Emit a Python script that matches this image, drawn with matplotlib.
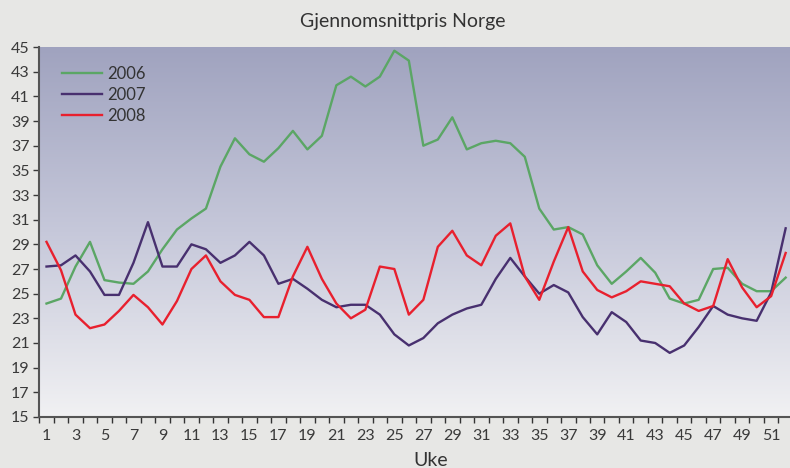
import numpy as np
import matplotlib
matplotlib.use('Agg')
import matplotlib.pyplot as plt
from matplotlib.colors import LinearSegmentedColormap

# Data
weeks = list(range(1, 53))

pris_2006 = [24.2, 24.6, 27.2, 29.2, 26.1, 25.9, 25.8, 26.8, 28.6, 30.2,
             31.1, 31.9, 35.3, 37.6, 36.3, 35.7, 36.8, 38.2, 36.7, 37.8,
             41.9, 42.6, 41.8, 42.6, 44.7, 43.9, 37.0, 37.5, 39.3, 36.7,
             37.2, 37.4, 37.2, 36.1, 31.9, 30.2, 30.4, 29.8, 27.3, 25.8,
             26.8, 27.9, 26.7, 24.6, 24.2, 24.5, 27.0, 27.1, 25.8, 25.2,
             25.2, 26.3]

pris_2007 = [27.2, 27.3, 28.1, 26.8, 24.9, 24.9, 27.5, 30.8, 27.2, 27.2,
             29.0, 28.6, 27.5, 28.1, 29.2, 28.1, 25.8, 26.2, 25.4, 24.5,
             23.9, 24.1, 24.1, 23.3, 21.7, 20.8, 21.4, 22.6, 23.3, 23.8,
             24.1, 26.2, 27.9, 26.4, 25.0, 25.7, 25.1, 23.1, 21.7, 23.5,
             22.7, 21.2, 21.0, 20.2, 20.8, 22.3, 24.0, 23.3, 23.0, 22.8,
             25.1, 30.3]

pris_2008 = [29.2, 26.9, 23.3, 22.2, 22.5, 23.6, 24.9, 23.9, 22.5, 24.4,
             27.0, 28.1, 26.0, 24.9, 24.5, 23.1, 23.1, 26.4, 28.8, 26.2,
             24.2, 23.0, 23.7, 27.2, 27.0, 23.3, 24.5, 28.8, 30.1, 28.1,
             27.3, 29.7, 30.7, 26.4, 24.5, 27.6, 30.4, 26.8, 25.3, 24.7,
             25.2, 26.0, 25.8, 25.6, 24.2, 23.6, 24.0, 27.8, 25.5, 23.9,
             24.8, 28.3]

series = [('2006', pris_2006, '#5ba665'),
          ('2007', pris_2007, '#48306f'),
          ('2008', pris_2008, '#e8202e')]

plt.rcParams['font.family'] = ['Lato', 'DejaVu Sans']

fig = plt.figure(figsize=(7.9, 4.68), dpi=100, facecolor='#e7e7e5')
ax = fig.add_axes([0.0497, 0.109, 0.9503, 0.7905])

# gradient background
grad = LinearSegmentedColormap.from_list('bg', ['#f1f1f3', '#c6c8da', '#a0a3bf'])
ax.imshow(np.linspace(0, 1, 256).reshape(-1, 1), cmap=grad, origin='lower',
          aspect='auto', extent=[0, 1, 0, 1], transform=ax.transAxes, zorder=0)

for name, vals, col in series:
    ax.plot(weeks, vals, color=col, lw=1.7, label=name, zorder=3)

ax.set_xlim(0.5, 52.3)
ax.set_ylim(15, 45)
ax.set_yticks(range(15, 46, 2))
ax.set_xticks(range(1, 53, 2))
ax.set_xticks(np.arange(0.5, 52.5, 1), minor=True)
ax.tick_params(axis='x', which='major', length=0, pad=9, labelsize=11.5, colors='#3a3a3a')
ax.tick_params(axis='x', which='minor', length=4, width=1, color='#333333')
ax.tick_params(axis='y', length=4, width=1, labelsize=11.5, colors='#3a3a3a', pad=3)

for s in ['top', 'right']:
    ax.spines[s].set_visible(False)
ax.spines['left'].set_color('#555555')
ax.spines['bottom'].set_color('#555555')
ax.spines['left'].set_linewidth(1.5)
ax.spines['bottom'].set_linewidth(1.5)

fig.text(0.51, 0.955, 'Gjennomsnittpris Norge', fontsize=14, color='#333333',
         ha='center', va='center')
fig.text(0.545, 0.015, 'Uke', fontsize=14, color='#333333', ha='center', va='center')

ax.legend(loc='upper left', frameon=False, fontsize=12, handlelength=2.4,
          handletextpad=0.3, labelspacing=0.3, bbox_to_anchor=(0.01, 0.99),
          labelcolor='#333333')

fig.savefig('out.png', dpi=100, facecolor=fig.get_facecolor())
